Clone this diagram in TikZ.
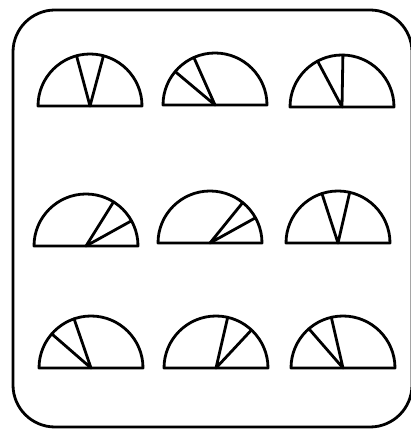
\documentclass[tikz,border=0pt]{standalone}
\begin{document}
\begin{tikzpicture}[x=1pt,y=1pt,
  ink/.style={line width=2.8pt,line join=round,line cap=round,black},
  pics/gauge/.style n args={2}{code={
    \draw[ink] (-52,0) -- (52,0) arc (0:180:52) -- cycle;
    \draw[ink] (#1:52) -- (0,0) -- (#2:52);
  }}]
\useasboundingbox (0,0) rectangle (410,431);
\draw[ink,rounded corners=42] (13,4) rectangle (412,421);
% row 1
\pic at (90,325) {gauge={105}{75}};
\pic at (215,326) {gauge={140}{114}};
\pic at (342,324) {gauge={118}{89}};
% row 2
\pic at (86,185) {gauge={58}{29}};
\pic at (210,188) {gauge={51}{29}};
\pic at (338,188) {gauge={108}{77}};
% row 3
\pic at (91,63) {gauge={139}{109}};
\pic at (216,63) {gauge={77}{47}};
\pic at (343,63) {gauge={131}{103}};
\end{tikzpicture}
\end{document}
